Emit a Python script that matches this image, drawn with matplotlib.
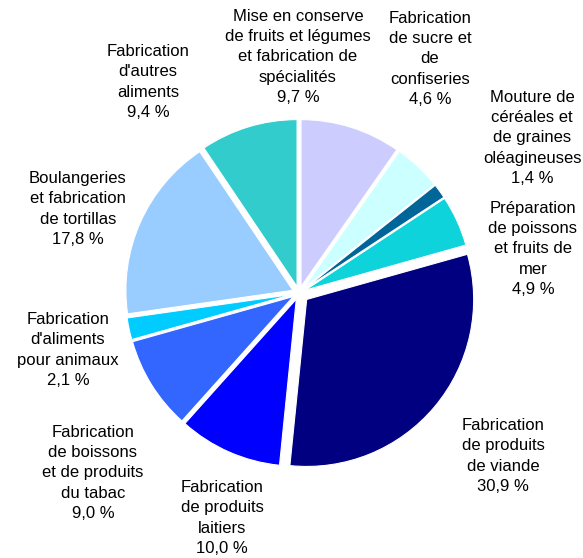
import matplotlib
matplotlib.use("Agg")
import matplotlib.pyplot as plt

plt.rcParams['font.family'] = ['Liberation Sans', 'DejaVu Sans']

# data, clockwise from the top
labels = [
    "Mise en conserve\nde fruits et légumes\net fabrication de\nspécialités",
    "Fabrication\nde sucre et\nde\nconfiseries",
    "Mouture de\ncéréales et\nde graines\noléagineuses",
    "Préparation\nde poissons\net fruits de\nmer",
    "Fabrication\nde produits\nde viande",
    "Fabrication\nde produits\nlaitiers",
    "Fabrication\nde boissons\net de produits\ndu tabac",
    "Fabrication\nd'aliments\npour animaux",
    "Boulangeries\net fabrication\nde tortillas",
    "Fabrication\nd'autres\naliments",
]
values = [9.7, 4.6, 1.4, 4.9, 30.9, 10.0, 9.0, 2.1, 17.8, 9.4]
colors = ["#CCCCFF", "#CCFFFF", "#006699", "#0FD3DB", "#000080",
          "#0000FF", "#3366FF", "#00CCFF", "#99CCFF", "#33CCCC"]
explode = [0.04, 0.04, 0.04, 0.04, 0.06, 0.04, 0.04, 0.04, 0.04, 0.04]

# label centres in pixels (x, y from top)
label_pos = [(298, 57), (430, 59), (532, 138), (533, 249), (503, 456),
             (222, 518), (93, 473), (68, 350), (78, 209), (148, 82)]

W, H = 583, 558
cx, cy, r = 299, 293, 167

fig = plt.figure(figsize=(W / 100, H / 100), dpi=100)
ax = fig.add_axes([0, 0, 1, 1])
ax.pie(values, colors=colors, explode=explode, startangle=90,
       counterclock=False, radius=1,
       wedgeprops=dict(edgecolor='white', linewidth=0.8))
ax.set_xlim(-cx / r, (W - cx) / r)
ax.set_ylim(-(H - cy) / r, cy / r)
ax.set_aspect('equal')
ax.axis('off')

for lab, v, (px, py) in zip(labels, values, label_pos):
    txt = lab + "\n" + f"{v:.1f}".replace(".", ",") + " %"
    ax.text((px - cx) / r, (cy - py) / r, txt, ha='center', va='center',
            fontsize=12, linespacing=1.43, color='#000000')

fig.savefig("out.png", dpi=100)
